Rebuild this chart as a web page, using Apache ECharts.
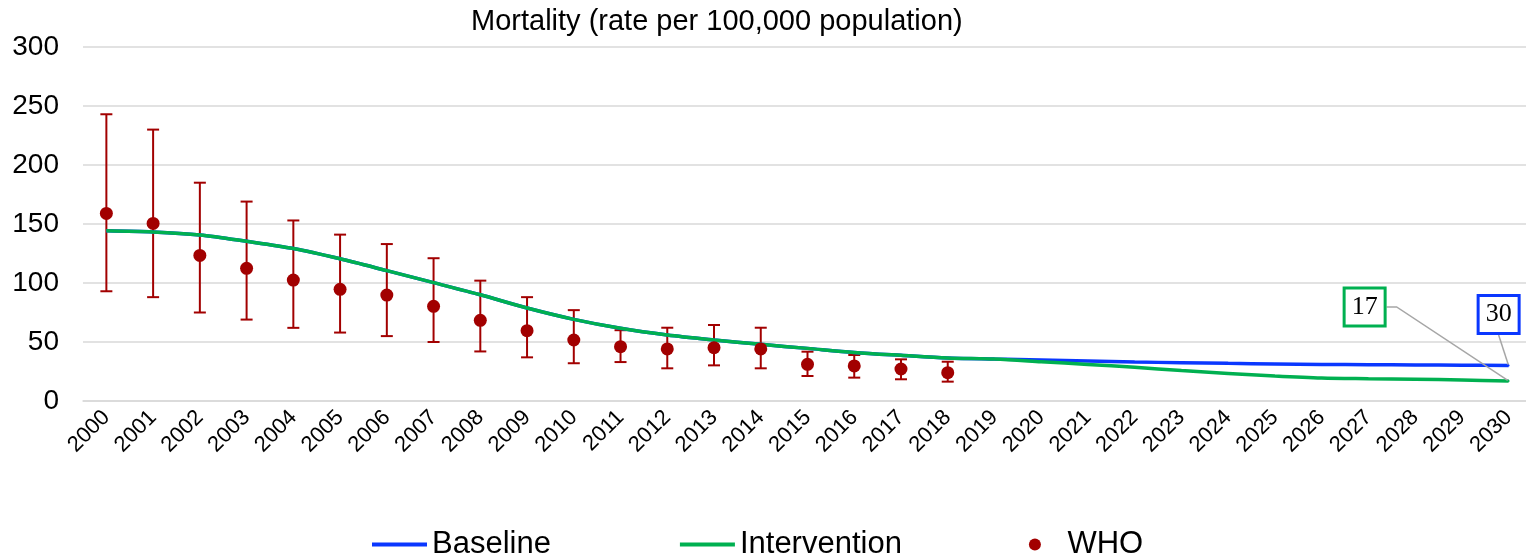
<!DOCTYPE html>
<html>
<head>
<meta charset="utf-8">
<title>Mortality (rate per 100,000 population)</title>
<script src="https://cdn.jsdelivr.net/npm/echarts@6/dist/echarts.min.js"></script>
<style>
  html, body { margin: 0; padding: 0; background: #ffffff; }
  #chart { width: 1526px; height: 555px; }
</style>
</head>
<body>
<div id="chart"></div>
<script>
// Years on the x axis
const years = [
  '2000','2001','2002','2003','2004','2005','2006','2007','2008','2009','2010',
  '2011','2012','2013','2014','2015','2016','2017','2018','2019','2020',
  '2021','2022','2023','2024','2025','2026','2027','2028','2029','2030'
];

// Modelled mortality, baseline scenario
const baseline = [
  144.3, 143.3, 140.7, 135.3, 129.2, 120.5, 110.5, 100.3, 90.0, 78.8, 69.2,
  61.6, 55.9, 51.7, 48.0, 44.6, 41.2, 38.7, 36.4, 35.5, 34.7,
  33.9, 33.0, 32.5, 31.9, 31.4, 31.0, 30.8, 30.6, 30.4, 30
];

// Modelled mortality, intervention scenario
const intervention = [
  144.3, 143.3, 140.7, 135.3, 129.2, 120.5, 110.5, 100.3, 90.0, 78.8, 69.2,
  61.6, 55.9, 51.7, 48.0, 44.6, 41.2, 38.7, 36.4, 35.5, 33.3,
  31.0, 28.5, 25.8, 23.4, 21.2, 19.5, 18.9, 18.4, 17.8, 17
];

// WHO estimates (2000-2018) with uncertainty bounds
const whoValues = [159, 150.5, 123.4, 112.4, 102.5, 94.6, 89.8, 80.2, 68.4, 59.6, 51.7, 46, 44.1, 45.2, 44.1, 31.1, 29.7, 27.1, 24];
const whoLow    = [93, 88, 75, 69, 62, 58, 55, 50, 42, 37, 32, 33, 27.7, 30.2, 27.7, 21.2, 19.8, 18.4, 16.4];
const whoHigh   = [243, 230, 185, 169, 153, 141, 133, 121, 102, 88, 77, 60, 62.1, 64.4, 62.1, 41.8, 39, 35.3, 33.3];

// Y axis ticks
const yTicks = { min: 0, max: 300, step: 50 };

const BLUE = '#0A37FF';
const GREEN = '#00B050';
const RED = '#A20000';
const GRID_GREY = '#d9d9d9';

const chart = echarts.init(document.getElementById('chart'), null, { renderer: 'canvas' });

const last = years.length - 1;

function errorBar(params, api) {
  const x = api.value(0);
  const lo = api.coord([x, api.value(1)]);
  const hi = api.coord([x, api.value(2)]);
  const half = 6;
  const style = { stroke: RED, lineWidth: 2 };
  return {
    type: 'group',
    children: [
      { type: 'line', shape: { x1: lo[0], y1: lo[1], x2: hi[0], y2: hi[1] }, style: style },
      { type: 'line', shape: { x1: hi[0] - half, y1: hi[1], x2: hi[0] + half, y2: hi[1] }, style: style },
      { type: 'line', shape: { x1: lo[0] - half, y1: lo[1], x2: lo[0] + half, y2: lo[1] }, style: style }
    ]
  };
}

function endLabel(color) {
  return {
    show: true,
    position: 'inside',
    formatter: p => String(p.value[1]),
    fontFamily: 'Liberation Serif',
    fontSize: 26,
    lineHeight: 29,
    color: '#000000',
    backgroundColor: '#ffffff',
    borderColor: color,
    borderWidth: 3,
    padding: [4, 6, 2, 6]
  };
}

const option = {
  animation: false,
  backgroundColor: '#ffffff',
  title: {
    text: 'Mortality (rate per 100,000 population)',
    left: 466,
    top: 2,
    textStyle: { fontFamily: 'Liberation Sans', fontSize: 29, fontWeight: 'normal', color: '#000' }
  },
  legend: {
    data: [
      { name: 'Baseline', itemStyle: { opacity: 0 }, lineStyle: { width: 4 } },
      { name: 'Intervention', itemStyle: { opacity: 0 }, lineStyle: { width: 4 } },
      { name: 'WHO' }
    ],
    left: 370,
    top: 529,
    padding: 0,
    itemWidth: 55,
    itemHeight: 12,
    itemGap: 127,
    textStyle: { fontFamily: 'Liberation Sans', fontSize: 31, color: '#000' }
  },
  grid: {
    left: 83,
    top: 47,
    width: 1449,
    height: 354,
    containLabel: false,
    outerBoundsMode: 'none'
  },
  xAxis: {
    type: 'category',
    data: years,
    boundaryGap: true,
    axisLine: { show: true, lineStyle: { color: GRID_GREY, width: 1.5 } },
    axisTick: { show: false },
    axisLabel: {
      interval: 0,
      rotate: 45,
      margin: 13,
      fontFamily: 'Liberation Sans',
      fontSize: 22,
      color: '#000'
    },
    splitLine: { show: false }
  },
  yAxis: {
    type: 'value',
    min: yTicks.min,
    max: yTicks.max,
    interval: yTicks.step,
    axisLine: { show: false },
    axisTick: { show: false },
    axisLabel: { margin: 24, fontFamily: 'Liberation Sans', fontSize: 28, color: '#000' },
    splitLine: { lineStyle: { color: GRID_GREY, width: 1.5 } }
  },
  series: [
    {
      name: 'WHO range',
      type: 'custom',
      renderItem: errorBar,
      encode: { x: 0, y: [1, 2] },
      data: whoValues.map((v, i) => [i, whoLow[i], whoHigh[i]]),
      z: 1,
      silent: true
    },
    {
      name: 'Baseline',
      type: 'line',
      data: baseline,
      symbol: 'none',
      smooth: 0.3,
      lineStyle: { color: BLUE, width: 3.5 },
      itemStyle: { color: BLUE },
      z: 2
    },
    {
      name: 'Intervention',
      type: 'line',
      data: intervention,
      symbol: 'none',
      smooth: 0.3,
      lineStyle: { color: GREEN, width: 3.5 },
      itemStyle: { color: GREEN },
      z: 3
    },
    {
      name: 'WHO',
      type: 'scatter',
      data: whoValues,
      symbol: 'circle',
      symbolSize: 13,
      itemStyle: { color: RED, opacity: 1 },
      z: 5
    },
    {
      name: 'Baseline 2030',
      type: 'scatter',
      data: [[years[last], baseline[last]]],
      symbolSize: 2,
      itemStyle: { color: BLUE, opacity: 1 },
      label: endLabel(BLUE),
      labelLayout: { dx: -10, dy: -51 },
      labelLine: { show: true, length2: 0, lineStyle: { color: '#a6a6a6', width: 1.5 } },
      z: 6
    },
    {
      name: 'Intervention 2030',
      type: 'scatter',
      data: [[years[last], intervention[last]]],
      symbolSize: 2,
      itemStyle: { color: GREEN, opacity: 1 },
      label: endLabel(GREEN),
      labelLayout: { dx: -144, dy: -74 },
      labelLine: { show: true, length2: 10, lineStyle: { color: '#a6a6a6', width: 1.5 } },
      z: 6
    }
  ]
};

chart.setOption(option);
</script>
</body>
</html>
